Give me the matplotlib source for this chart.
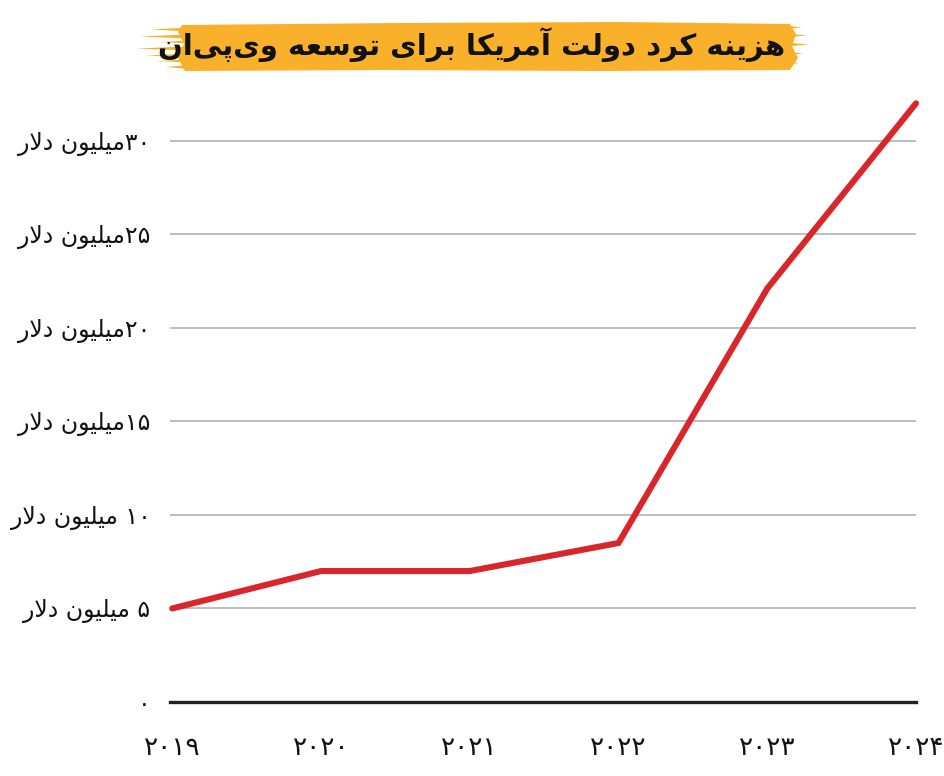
import re
import matplotlib
matplotlib.use('Agg')
import matplotlib.pyplot as plt
from matplotlib.patches import Polygon

# data (million dollars)
years = [2019, 2020, 2021, 2022, 2023, 2024]
spending = [5.0, 7.0, 7.0, 8.5, 22.1, 32.0]
year_labels = ['۲۰۱۹', '۲۰۲۰', '۲۰۲۱', '۲۰۲۲', '۲۰۲۳', '۲۰۲۴']
y_ticks = [0, 5, 10, 15, 20, 25, 30]
y_tick_labels = ['۰', '۵ میلیون دلار', '۱۰ میلیون دلار', '۱۵میلیون دلار',
                 '۲۰میلیون دلار', '۲۵میلیون دلار', '۳۰میلیون دلار']
title = 'هزینه کرد دولت آمریکا برای توسعه وی\u200cپی\u200cان'

# minimal Persian shaping: (isolated, final, initial, medial)
FORMS = {
    'ا': ('\uFE8D', '\uFE8E', None, None),
    'آ': ('\uFE81', '\uFE82', None, None),
    'ب': ('\uFE8F', '\uFE90', '\uFE91', '\uFE92'),
    'پ': ('\uFB56', '\uFB57', '\uFB58', '\uFB59'),
    'ت': ('\uFE95', '\uFE96', '\uFE97', '\uFE98'),
    'د': ('\uFEA9', '\uFEAA', None, None),
    'ر': ('\uFEAD', '\uFEAE', None, None),
    'ز': ('\uFEAF', '\uFEB0', None, None),
    'س': ('\uFEB1', '\uFEB2', '\uFEB3', '\uFEB4'),
    'ع': ('\uFEC9', '\uFECA', '\uFECB', '\uFECC'),
    'ک': ('\uFB8E', '\uFB8F', '\uFB90', '\uFB91'),
    'ل': ('\uFEDD', '\uFEDE', '\uFEDF', '\uFEE0'),
    'م': ('\uFEE1', '\uFEE2', '\uFEE3', '\uFEE4'),
    'ن': ('\uFEE5', '\uFEE6', '\uFEE7', '\uFEE8'),
    'ه': ('\uFEE9', '\uFEEA', '\uFEEB', '\uFEEC'),
    'و': ('\uFEED', '\uFEEE', None, None),
    'ی': ('\uFBFC', '\uFBFD', '\uFBFE', '\uFBFF'),
}
LAM_ALEF = {'ا': ('\uFEFB', '\uFEFC'), 'آ': ('\uFEF5', '\uFEF6')}


def shape(text):
    out = []
    i = 0
    n = len(text)
    while i < n:
        c = text[i]
        if c not in FORMS:
            if c != '\u200c':
                out.append(c)
            i += 1
            continue
        prev = text[i - 1] if i > 0 else ''
        joins_prev = prev in FORMS and FORMS[prev][2] is not None
        nxt = text[i + 1] if i + 1 < n else ''
        if c == 'ل' and nxt in LAM_ALEF:
            out.append(LAM_ALEF[nxt][1 if joins_prev else 0])
            i += 2
            continue
        iso, fin, ini, med = FORMS[c]
        joins_next = ini is not None and nxt in FORMS
        if joins_prev and joins_next:
            out.append(med)
        elif joins_prev:
            out.append(fin)
        elif joins_next:
            out.append(ini)
        else:
            out.append(iso)
        i += 1
    return ''.join(out)


def rtl(text):
    s = shape(text)[::-1]
    return re.sub('[۰-۹0-9]+', lambda m: m.group(0)[::-1], s)


plt.rcParams['font.family'] = ['DejaVu Sans']

W, H = 944, 776
fig = plt.figure(figsize=(W / 100, H / 100), dpi=100)
ax = fig.add_axes([170 / W, 1 - 702 / H, 746 / W, (702 - 94) / H])

ax.plot(years, spending, color='#d9262a', linewidth=4.4, solid_capstyle='round',
        solid_joinstyle='miter', zorder=3, clip_on=False)
ax.axhline(0, color='#222222', linewidth=2.4, zorder=2, clip_on=False)
for t in y_ticks[1:]:
    ax.axhline(t, color='#bdbdbd', linewidth=1.4, zorder=1)

ax.set_xlim(2018.985, 2024.0)
ax.set_ylim(0, 32.5)
ax.set_yticks(y_ticks)
ax.set_yticklabels([rtl(s) for s in y_tick_labels], fontsize=17, color='#111111')
ax.set_xticks(years)
ax.set_xticklabels(year_labels, fontsize=19, color='#111111')
ax.tick_params(axis='y', length=0, pad=14)
ax.tick_params(axis='x', length=0, pad=24)
for s in ax.spines.values():
    s.set_visible(False)

# yellow brush banner behind the title (pixel coords, y from top)
YELLOW = '#f9b12b'


def px_poly(points):
    fig.patches.append(Polygon([(x, H - y) for x, y in points], closed=True,
                               facecolor=YELLOW, edgecolor='none', transform=None))


px_poly([(182, 25), (400, 23), (620, 22), (790, 24), (796, 34), (792, 46),
         (798, 58), (790, 70), (600, 71), (380, 70), (185, 71), (178, 58),
         (184, 44), (178, 32)])
# feathered brush streaks at both ends
for x0, y0, y1 in [(150, 27, 32), (140, 34, 39), (160, 40, 44), (136, 46, 51),
                   (146, 53, 58), (156, 59, 63), (166, 64, 70)]:
    px_poly([(x0, (y0 + y1) / 2), (200, y0), (200, y1)])
for x1, y0, y1 in [(802, 25, 30), (807, 33, 38), (809, 42, 47), (803, 51, 56),
                   (799, 60, 66)]:
    px_poly([(x1, (y0 + y1) / 2), (780, y0), (780, y1)])

fig.text(472 / W, 1 - 45 / H, rtl(title), ha='center', va='center',
         fontsize=21, fontweight='bold', color='#111111')

fig.savefig('out.png', dpi=100)
